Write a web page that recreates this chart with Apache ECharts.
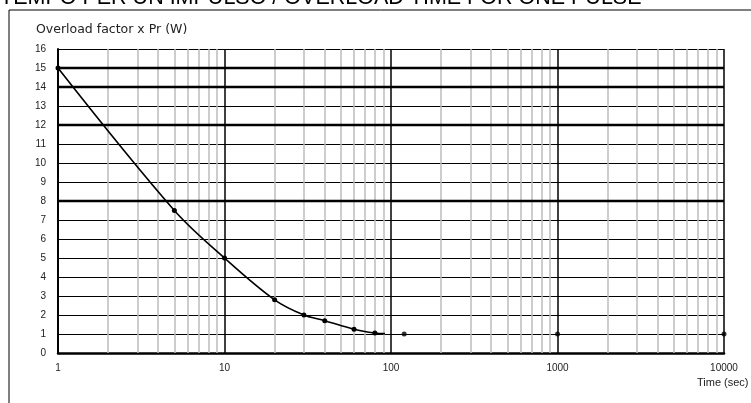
<!DOCTYPE html>
<html><head><meta charset="utf-8">
<script src="https://cdn.jsdelivr.net/npm/echarts@6/dist/echarts.min.js"></script>
<style>html,body{margin:0;padding:0;background:#fff}#c{width:751px;height:403px}</style>
</head><body><div id="c"></div>
<script>
var titleText = 'TEMPO PER UN IMPULSO / OVERLOAD TIME FOR ONE PULSE';
var yName = 'Overload factor x Pr (W)';
var xName = 'Time (sec)';
var curveTimes = [1, 5, 10, 20, 30, 40, 60, 80, 92];
var curveFactors = [15, 7.5, 5, 2.8, 2, 1.7, 1.25, 1.05, 1.02];
var curveMarked = [true, true, true, true, true, true, true, true, false];
var pointTimes = [120, 1000, 10000];
var pointFactors = [1, 1, 1];
var minorX = [2,3,4,5,6,7,8,9,20,30,40,50,60,70,80,90,200,300,400,500,600,700,800,900,2000,3000,4000,5000,6000,7000,8000,9000];
var thickY = [8, 12, 14, 15];

var chart = echarts.init(document.getElementById('c'), null, {renderer:'canvas'});
var curveData = curveTimes.map(function(t,i){
  var d = {value:[t, curveFactors[i]]};
  if(!curveMarked[i]) d.symbol = 'none';
  return d;
});
var pointData = pointTimes.map(function(t,i){return [t, pointFactors[i]];});
var font = 'Liberation Sans, Arial, sans-serif';
chart.setOption({
  animation:false,
  backgroundColor:'#fff',
  grid:{left:58, right:27, top:49, bottom:50, containLabel:false},
  xAxis:{type:'log', logBase:10, min:1, max:10000,
    axisLine:{show:true, onZero:false, lineStyle:{color:'#000', width:2.5}},
    axisTick:{show:false},
    axisLabel:{color:'#222', fontSize:10, margin:10, fontFamily:font, formatter:function(v){return String(Math.round(v));}},
    splitLine:{show:true, lineStyle:{color:'#000', width:1.5}}
  },
  yAxis:{type:'value', min:0, max:16, interval:1,
    axisLine:{show:true, lineStyle:{color:'#000', width:2}},
    axisTick:{show:false},
    axisLabel:{color:'#222', fontSize:10, margin:12, fontFamily:font},
    splitLine:{show:true, lineStyle:{color:'#000', width:1}}
  },
  graphic:[
    {type:'rect', shape:{x:9, y:10, width:800, height:450}, style:{fill:null, stroke:'#000', lineWidth:1}, z:-10, silent:true},
    {type:'text', left:0, top:-13, style:{text:titleText, font:'21.5px Liberation Sans, Arial, sans-serif', fill:'#000'}},
    {type:'text', left:36, top:23, style:{text:yName, font:'12.5px DejaVu Sans, sans-serif', fill:'#222'}},
    {type:'text', left:697, top:377, style:{text:xName, font:'11px Liberation Sans, Arial, sans-serif', fill:'#222'}}
  ],
  series:[
    {type:'line', data:curveData, symbol:'none', silent:true, lineStyle:{opacity:0}, z:1,
      markLine:{silent:true, symbol:'none', label:{show:false}, animation:false,
        data: minorX.map(function(v){return {xAxis:v, lineStyle:{color:'#bdbdbd', width:1.5, type:'solid'}};})
          .concat(thickY.map(function(v){return {yAxis:v, lineStyle:{color:'#000', width:2.4, type:'solid'}};}))
      }
    },
    {type:'line', data:curveData, smooth:0.35, symbol:'circle', symbolSize:5, showSymbol:true,
      itemStyle:{color:'#000'}, lineStyle:{color:'#000', width:1.6}, z:5},
    {type:'scatter', data:pointData, symbol:'circle', symbolSize:5, itemStyle:{color:'#000'}, z:5}
  ]
});
</script></body></html>
